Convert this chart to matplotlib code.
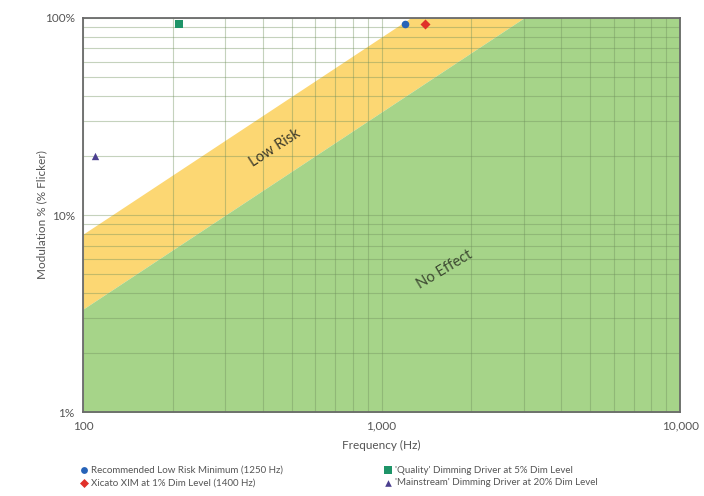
import numpy as np
import matplotlib.pyplot as plt
from matplotlib.ticker import FixedLocator, LogLocator, NullFormatter

# IEEE 1789 style boundaries: modulation (%) = slope * frequency
LOW_RISK_SLOPE = 0.08     # 8% at 100 Hz -> 100% at 1250 Hz
NO_EFFECT_SLOPE = 1 / 30  # 3.33% at 100 Hz -> 100% at 3000 Hz

freq_range = [100, 10000]
mod_range = [1, 100]

# measured points
point_labels = ["Recommended Low Risk Minimum (1250 Hz)",
                "Xicato XIM at 1% Dim Level (1400 Hz)",
                "'Quality' Dimming Driver at 5% Dim Level",
                "'Mainstream' Dimming Driver at 20% Dim Level"]
point_freq = [1200, 1400, 210, 110]
point_mod = [93, 93, 93, 20]
point_colors = ['#2763b8', '#e0302a', '#1e9468', '#4b3f8f']
point_markers = ['o', 'D', 's', '^']
point_sizes = [30, 26, 32, 28]

plt.rcParams['font.family'] = ['Lato', 'DejaVu Sans']
TEXT_COLOR = '#555555'

fig = plt.figure(figsize=(7.04, 4.96), dpi=100)
ax = fig.add_axes([0.118, 0.169, 0.848, 0.795])
ax.set_xscale('log')
ax.set_yscale('log')
ax.set_xlim(*freq_range)
ax.set_ylim(*mod_range)

f = np.logspace(2, 4, 400)
low_risk = np.minimum(LOW_RISK_SLOPE * f, 100)
no_effect = np.minimum(NO_EFFECT_SLOPE * f, 100)
ax.fill_between(f, no_effect, low_risk, color='#fcd773', zorder=1, linewidth=0)
ax.fill_between(f, 0.5, no_effect, color='#a6d489', zorder=1, linewidth=0)

# grid on top of the zones
ax.xaxis.set_minor_locator(LogLocator(base=10, subs=np.arange(2, 10)))
ax.yaxis.set_minor_locator(LogLocator(base=10, subs=np.arange(2, 10)))
ax.xaxis.set_minor_formatter(NullFormatter())
ax.yaxis.set_minor_formatter(NullFormatter())
ax.grid(True, which='both', color='#6f8f5c', alpha=0.4, linewidth=0.8, zorder=2)
ax.set_axisbelow(False)

for lab, x, y, c, m, s in zip(point_labels, point_freq, point_mod,
                              point_colors, point_markers, point_sizes):
    ax.scatter(x, y, color=c, marker=m, s=s, zorder=5, label=lab,
               clip_on=False, linewidths=0)

ax.text(440, 22, 'Low Risk', rotation=33, ha='center', va='center',
        fontsize=10.5, color='#3d3a2a', zorder=4)
ax.text(1620, 5.3, 'No Effect', rotation=31, ha='center', va='center',
        fontsize=10.5, color='#3d4a32', zorder=4)

ax.xaxis.set_major_locator(FixedLocator([100, 1000, 10000]))
ax.set_xticklabels(['100', '1,000', '10,000'])
ax.yaxis.set_major_locator(FixedLocator([1, 10, 100]))
ax.set_yticklabels(['1%', '10%', '100%'])
ax.tick_params(which='both', length=0, labelsize=8.5, labelcolor=TEXT_COLOR, pad=6)

for sp in ax.spines.values():
    sp.set_color('#6a6a6a')
    sp.set_linewidth(1.3)
    sp.set_zorder(6)

ax.set_xlabel('Frequency (Hz)', fontsize=8.5, color=TEXT_COLOR, labelpad=6)
ax.set_ylabel('Modulation % (% Flicker)', fontsize=8.5, color=TEXT_COLOR, labelpad=-2)

handles, labels = ax.get_legend_handles_labels()
fig.legend(handles, labels, ncol=2, loc='lower left', bbox_to_anchor=(0.1, 0.0),
           frameon=False, fontsize=7, labelcolor=TEXT_COLOR, handletextpad=0.2,
           columnspacing=10.3, handlelength=1.0, markerscale=0.9, labelspacing=0.35)

fig.savefig('out.png', dpi=100)
